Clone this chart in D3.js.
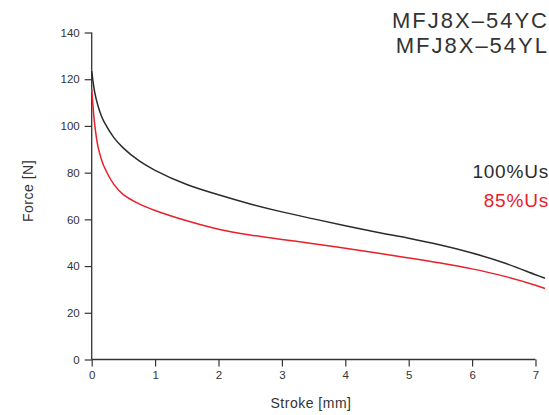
<!DOCTYPE html>
<html><head><meta charset="utf-8">
<script src="https://cdn.jsdelivr.net/npm/d3@7"></script>
<style>body{margin:0;background:#fff}svg{display:block}text{font-family:"Liberation Sans",Arial,sans-serif}</style>
</head><body>
<script>
const stroke = [0, 0.05, 0.1, 0.15, 0.2, 0.35, 0.5, 0.75, 1, 1.5, 2, 2.5, 3, 3.5, 4, 4.5, 5, 5.5, 6, 6.5, 7, 7.15];
const force100 = [123.5, 114, 108.5, 104.5, 101.5, 95, 90.5, 85, 81, 74.9, 70.5, 66.6, 63.2, 60.2, 57.3, 54.5, 51.9, 49, 45.6, 41.4, 36.3, 34.8];
const force85 = [115.7, 100, 91, 86, 82.3, 75, 70.6, 66.6, 63.8, 59.4, 55.8, 53.3, 51.4, 49.6, 47.6, 45.6, 43.5, 41.3, 38.8, 35.7, 31.8, 30.4];
const xTicks = [0, 1, 2, 3, 4, 5, 6, 7];
const yTicks = [0, 20, 40, 60, 80, 100, 120, 140];
const titleLines = ["MFJ8X\u201354YC", "MFJ8X\u201354YL"];
const seriesLabels = ["100%Us", "85%Us"];
const seriesColors = ["#2b2b2b", "#e8202a"];

const W = 549, H = 415;
const svg = d3.select("body").append("svg").attr("width", W).attr("height", H);
const x = d3.scaleLinear().domain([0, 7]).range([91.7, 535.5]);
const y = d3.scaleLinear().domain([0, 140]).range([359.5, 32.5]);
const axisColor = "#333";

const gx = svg.append("g").attr("transform", `translate(0,${y(0)})`);
gx.call(d3.axisBottom(x).tickValues(d3.range(0, 7.01, 0.5)).tickSize(4).tickFormat(""));
gx.call(d3.axisBottom(x).tickValues(xTicks).tickSize(7).tickFormat(d3.format("d")).tickPadding(4));
const gy = svg.append("g").attr("transform", `translate(${x(0)},0)`);
gy.call(d3.axisLeft(y).tickValues(d3.range(0, 141, 10)).tickSize(4).tickFormat(""));
gy.call(d3.axisLeft(y).tickValues(yTicks).tickSize(7).tickFormat(d3.format("d")).tickPadding(5));
svg.selectAll(".domain").attr("stroke", axisColor).attr("stroke-width", 1.3);
svg.selectAll(".tick line").attr("stroke", axisColor).attr("stroke-width", 1.2);
svg.selectAll(".tick text").attr("fill", axisColor).style("font-size", "11.5px").style("font-family", "Liberation Sans, Arial, sans-serif");
gx.selectAll("path.domain").attr("d", `M${x(0)},0H${x(7)}`);
gy.selectAll("path.domain").attr("d", `M0,${y(140)}V${y(0)}`);

const line = d3.line().x((d, i) => x(stroke[i])).y(d => y(d)).curve(d3.curveCatmullRom.alpha(0.5));
[force100, force85].forEach((s, k) => {
  svg.append("path").datum(s).attr("d", line).attr("fill", "none")
    .attr("stroke", seriesColors[k]).attr("stroke-width", 1.5);
});

svg.append("text").attr("x", 311).attr("y", 408).attr("text-anchor", "middle")
  .attr("fill", axisColor).style("font-size", "14px").style("letter-spacing", "0.5px").text("Stroke [mm]");
svg.append("text").attr("transform", "translate(33,191) rotate(-90)").attr("text-anchor", "middle")
  .attr("fill", axisColor).style("font-size", "14px").style("letter-spacing", "0.5px").text("Force [N]");

titleLines.forEach((t, i) => {
  svg.append("text").attr("x", 549).attr("y", 28 + i * 25).attr("text-anchor", "end")
    .attr("fill", "#333").style("font-size", "22px").style("letter-spacing", "2px").text(t);
});
seriesLabels.forEach((t, i) => {
  svg.append("text").attr("x", 549).attr("y", 178 + i * 29).attr("text-anchor", "end")
    .attr("fill", seriesColors[i]).style("font-size", "19px").style("letter-spacing", "0.8px").text(t);
});
</script>
</body></html>
